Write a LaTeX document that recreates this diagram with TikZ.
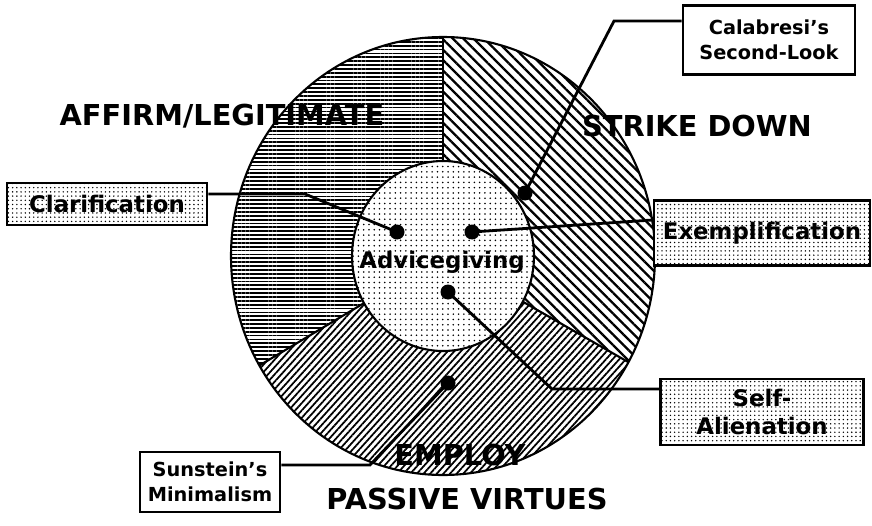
\documentclass[tikz,border=0pt]{standalone}
\usepackage{fontspec}
\setmainfont{DejaVu Sans}
\usepackage{tikz}
\usetikzlibrary{patterns.meta}

\begin{document}
\begin{tikzpicture}[x=0.02cm, y=0.02cm,
    big/.style={font=\bfseries\fontsize{16.4}{19.7}\selectfont, inner sep=0pt},
    tag/.style={draw, line width=1.6pt, align=center, inner sep=0pt,
      font=\bfseries\fontsize{13}{15.5}\selectfont},
    small/.style={font=\bfseries\fontsize{11}{14.5}\selectfont},
    dotfill/.style={preaction={fill=white}, pattern={Dots[distance=2.4pt, radius=0.45pt]}},
    link/.style={line width=1.6pt},
    pin/.style={circle, fill, inner sep=0pt, minimum size=0.3cm}]
    \useasboundingbox (0,0) rectangle (872,525);
    \coordinate (c) at (443,269);

    \path [pattern={Lines[angle=0, distance=2.2pt, line width=1pt]}]
      (c) -- +(90:212 and 219) arc [start angle=90, end angle=210, x radius=212, y radius=219] -- cycle;
    \path [pattern={Lines[angle=-45, distance=4.2pt, line width=1.3pt]}]
      (c) -- +(90:212 and 219) arc [start angle=90, end angle=-29, x radius=212, y radius=219] -- cycle;
    \path [pattern={Lines[angle=48, distance=2.8pt, line width=1pt]}]
      (c) -- +(210:212 and 219) arc [start angle=210, end angle=331, x radius=212, y radius=219] -- cycle;
    \draw [line width=1.2pt] (c) ellipse [x radius=212, y radius=219];
    \foreach \a in {90, 210, -29} {
      \draw [line width=1.2pt] (c) -- +(\a:212 and 219);
    }
    \fill [white] (c) ellipse [x radius=91, y radius=95];
    \path [pattern={Dots[distance=3pt, radius=0.5pt]}] (c) ellipse [x radius=91, y radius=95];
    \draw [line width=1.2pt] (c) ellipse [x radius=91, y radius=95];

    \node (affirm) [big] at (222,409) {AFFIRM/LEGITIMATE};
    \node (strike) [big] at (697,399) {STRIKE DOWN};
    \node (employ) [big] at (460,70) {EMPLOY};
    \node (passive) [big] at (467,26) {PASSIVE VIRTUES};
    \node (advice) [font=\bfseries\fontsize{13}{15.5}\selectfont] at (442,263) {Advicegiving};

    \node (clar) [tag, dotfill, minimum width=4cm, minimum height=0.84cm] at (107,321) {Clarification};
    \node (exem) [tag, dotfill, minimum width=4.32cm, minimum height=1.3cm] at (762,292) {Exemplification};
    \node (self) [tag, dotfill, minimum width=4.06cm, minimum height=1.32cm] at (762,113) {Self-\\Alienation};
    \node (calab) [tag, small, fill=white, minimum width=3.44cm, minimum height=1.38cm] at (769,485) {Calabresi’s\\Second-Look};
    \node (sun) [tag, small, fill=white, minimum width=2.8cm, minimum height=1.2cm] at (210,43) {Sunstein’s\\Minimalism};

    \node (pA) [pin] at (525,332) {};
    \node (pB) [pin] at (397,293) {};
    \node (pC) [pin] at (472,293) {};
    \node (pD) [pin] at (448,233) {};
    \node (pE) [pin] at (448,142) {};

    \coordinate (kA) at (614,504);
    \coordinate (kB) at (305,331);
    \coordinate (kC) at (655,305);
    \coordinate (kD) at (552,136);
    \coordinate (kE) at (370,60);
    \draw [link] (pA.center) -- (kA) -- (kA -| calab.west);
    \draw [link] (pB.center) -- (kB) -- (kB -| clar.east);
    \draw [link] (pC.center) -- (kC -| exem.west);
    \draw [link] (pD.center) -- (kD) -- (kD -| self.west);
    \draw [link] (pE.center) -- (kE) -- (kE -| sun.east);
  \end{tikzpicture}
\end{document}
